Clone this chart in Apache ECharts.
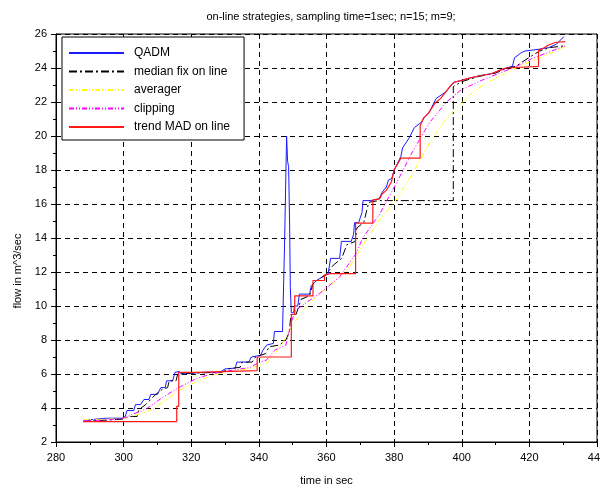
<!DOCTYPE html>
<html>
<head>
<meta charset="utf-8">
<script src="https://cdn.jsdelivr.net/npm/echarts@6/dist/echarts.min.js"></script>
<style>html,body{margin:0;padding:0;background:#fff}#c{width:600px;height:488px}</style>
</head>
<body>
<div id="c"></div>
<script>
const titleText = "on-line strategies, sampling time=1sec; n=15; m=9;";
const xName = "time in sec";
const yName = "flow in m^3/sec";
const seriesNames = ["QADM", "median fix on line", "averager", "clipping", "trend MAD on line"];

const qadm = [[288,3.2],[290,3.3],[292,3.35],[295,3.4],[299.5,3.4],[300.5,3.5],[301,3.85],[303,3.85],[303.5,4.2],[305,4.2],[306,4.5],[307.5,4.5],[308,4.8],[310,4.8],[311,5.2],[312.3,5.2],[312.7,5.6],[314.5,5.6],[315.2,6.1],[316.5,6.15],[317,6.0],[320,6.05],[324,6.1],[328.5,6.1],[330,6.3],[333,6.35],[333.5,6.7],[337,6.7],[337.8,7.0],[340.5,7.1],[341.2,7.4],[342.3,7.7],[344.3,7.8],[344.6,8.5],[347,8.5],[347.6,13.7],[348.2,20.0],[348.5,18.5],[348.8,18.2],[349.1,14.7],[349.3,11.1],[349.6,9.6],[350.3,9.6],[350.5,10.0],[351.5,10.0],[352,10.7],[355,10.7],[355.5,11.2],[357,11.5],[360.5,11.9],[361.2,12.8],[363.9,12.8],[364.4,13.8],[367.3,13.8],[368,14.2],[368.3,14.9],[369.5,14.9],[370.5,15.5],[370.8,16.2],[373.2,16.2],[375.5,16.3],[376.5,16.7],[377.7,17.0],[378.3,17.4],[379.3,17.5],[380,18.0],[382,18.8],[382.5,19.3],[384.5,19.9],[386,20.5],[388,20.8],[389,21.1],[390.4,21.4],[391.9,22.0],[392.4,22.2],[395.3,22.6],[397.7,23.16],[399.7,23.26],[402.2,23.4],[405.7,23.56],[408.7,23.66],[411.2,23.86],[413.2,24.0],[415,24.1],[415.6,24.6],[417.6,24.9],[418.7,25.0],[422.7,25.1],[425.7,25.2],[428,25.4],[430.2,25.85]];

const medianFix = [[288,3.2],[300,3.35],[301.5,3.5],[304,3.5],[304.5,3.9],[306.5,4.2],[308,4.5],[309.5,4.8],[311.5,5.1],[313,5.2],[313.5,5.6],[315.5,5.6],[316,6.0],[320,6.05],[329,6.1],[331,6.3],[334.5,6.4],[335,6.7],[338,6.7],[339,7.0],[342,7.2],[343,7.6],[346,7.7],[348,8.0],[349,8.5],[349.5,9.5],[351,9.5],[352.5,10.4],[355,10.6],[356,11.3],[360,11.9],[362,12.4],[364.5,12.8],[366,13.6],[368.5,13.8],[369,14.6],[371,14.9],[372.5,16.1],[375.5,16.2],[397.5,16.2],[397.5,22.9],[400,23.2],[405,23.5],[410,23.7],[413.5,24.0],[416,24.1],[419,24.5],[423,25.0],[426,25.2],[430.5,25.3]];

const averager = [[288,3.3],[295,3.35],[300,3.4],[303,3.55],[306.8,3.77],[309,4.0],[311.7,4.36],[314,4.7],[316.7,5.05],[319,5.3],[321.6,5.54],[324,5.75],[326.5,5.93],[331.4,6.18],[337.3,6.32],[340.3,6.52],[342.2,6.62],[344.7,7.2],[347,7.8],[349.1,8.58],[353,9.76],[357,10.55],[361.9,11.33],[366.8,12.3],[370.5,13.5],[375.7,15.06],[380.6,16.24],[385.5,17.8],[390.4,19.58],[395.3,21.0],[399.7,21.9],[403.7,22.65],[407.7,23.16],[412.7,23.66],[417.7,24.15],[422.7,24.55],[430.6,25.25]];

const clipping = [[288,3.25],[295,3.3],[300,3.4],[301.9,3.57],[306.8,3.96],[311.7,4.65],[316.7,5.24],[321.6,5.74],[326.5,6.03],[331.4,6.2],[337.3,6.38],[340.3,6.71],[342.2,6.81],[344.7,7.4],[348,7.7],[349.3,8.8],[350,9.3],[351,9.76],[354,10.2],[358,10.74],[363.9,11.72],[368.8,13.1],[370.7,14.0],[375.7,15.4],[380.6,17.2],[385.5,19.1],[390.5,20.8],[395.5,22.0],[399.7,22.7],[405.7,23.26],[410.7,23.66],[415.7,24.05],[420.7,24.55],[430.6,25.3]];

const trendMad = [[288,3.2],[315.7,3.2],[315.7,4.1],[316.3,4.1],[316.3,6.1],[321.6,6.1],[321.6,6.2],[339.5,6.2],[339.5,7.0],[349.6,7.0],[349.6,9.5],[350.6,9.5],[350.6,10.6],[356,10.6],[356,11.5],[359.4,11.5],[359.4,11.8],[361,11.9],[368.6,11.9],[368.6,14.87],[373.7,14.87],[373.7,16.24],[375.7,16.3],[376.5,16.6],[377.7,16.8],[379.2,17.3],[380,18.0],[382,18.7],[387.7,18.7],[387.7,20.6],[388.7,21.06],[390,21.3],[392.2,21.96],[393.7,22.2],[395.1,22.55],[396.7,22.96],[397.7,23.16],[399.7,23.26],[402.2,23.4],[405.7,23.56],[408.7,23.66],[411.2,23.86],[413,24.0],[413.2,24.1],[422.7,24.1],[422.7,25.05],[424,25.15],[425.7,25.35],[427.6,25.5],[430.6,25.55]];

const xMin = 280, xMax = 440, xStep = 20;
const yMin = 2, yMax = 26, yStep = 2;

const FONT = "Liberation Sans";
const chart = echarts.init(document.getElementById('c'), null, {renderer: 'canvas'});

function mk(name, data, color, type, width) {
  return {
    name: name, type: 'line', data: data, symbol: 'none', showSymbol: false,
    animation: false, clip: true,
    lineStyle: {color: color, width: width, type: type},
    itemStyle: {color: color}
  };
}

chart.setOption({
  animation: false,
  backgroundColor: '#ffffff',
  title: {
    text: titleText, left: 326, top: 6, textAlign: 'center',
    textStyle: {fontFamily: FONT, fontSize: 11, fontWeight: 'normal', color: '#000'}
  },
  grid: {left: 56, right: 3, top: 34, bottom: 46, show: true, borderColor: '#000', borderWidth: 1, containLabel: false, outerBoundsMode: 'none'},
  legend: {
    orient: 'vertical', left: 62, top: 37,
    backgroundColor: '#fff', borderColor: '#000', borderWidth: 1, borderRadius: 0,
    padding: [10, 14, 7, 6],
    itemWidth: 55, itemHeight: 12, itemGap: 6.5,
    itemStyle: {opacity: 0},
    data: seriesNames,
    textStyle: {fontFamily: FONT, fontSize: 12, color: '#000', padding: [0, 0, 0, 5]}
  },
  xAxis: {
    type: 'value', min: xMin, max: xMax, interval: xStep,
    name: xName, nameLocation: 'middle', nameGap: 33,
    nameTextStyle: {fontFamily: FONT, fontSize: 11, color: '#000'},
    axisLine: {show: true, onZero: false, lineStyle: {color: '#000', width: 1}},
    axisTick: {show: true, inside: false, length: 5, lineStyle: {color: '#000'}},
    minorTick: {show: true, splitNumber: 2, length: 3, lineStyle: {color: '#000'}},
    axisLabel: {fontFamily: FONT, fontSize: 11, color: '#000', margin: 10},
    splitLine: {show: true, lineStyle: {color: '#000', width: 1, type: [5, 4]}}
  },
  yAxis: {
    type: 'value', min: yMin, max: yMax, interval: yStep,
    name: yName, nameLocation: 'middle', nameGap: 28, nameRotate: 90,
    nameTextStyle: {fontFamily: FONT, fontSize: 11, color: '#000', padding: [0, 66, 0, 0]},
    axisLine: {show: true, onZero: false, lineStyle: {color: '#000', width: 1}},
    axisTick: {show: true, inside: false, length: 5, lineStyle: {color: '#000'}},
    minorTick: {show: true, splitNumber: 2, length: 3, lineStyle: {color: '#000'}},
    axisLabel: {fontFamily: FONT, fontSize: 11, color: '#000', margin: 9},
    splitLine: {show: true, lineStyle: {color: '#000', width: 1, type: [5, 4]}}
  },
  series: [
    mk(seriesNames[0], qadm, '#1a1aff', 'solid', 1),
    mk(seriesNames[1], medianFix, '#000000', [8, 3, 2, 3], 1),
    mk(seriesNames[2], averager, '#ffff00', [5, 2, 1, 2, 1, 2], 1),
    mk(seriesNames[3], clipping, '#ff00ff', [5, 2, 1, 2, 1, 2], 1),
    mk(seriesNames[4], trendMad, '#ff1a1a', 'solid', 1.2)
  ]
});
</script>
</body>
</html>
